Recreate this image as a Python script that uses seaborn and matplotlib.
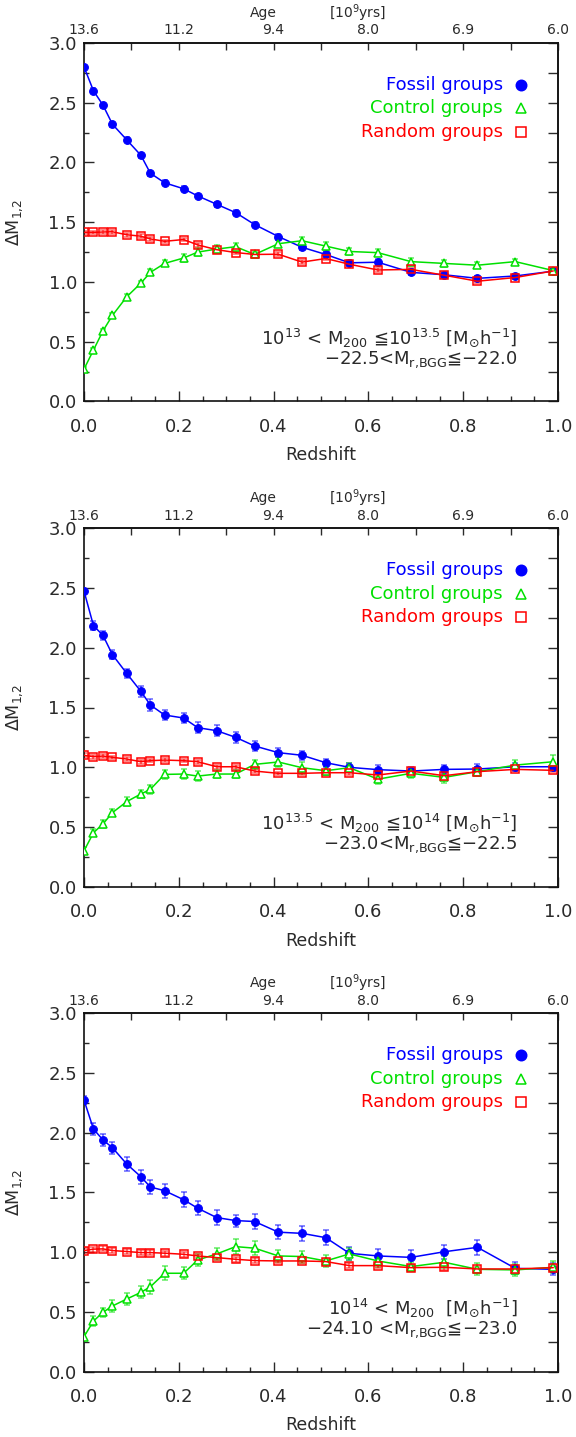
import numpy as np
import matplotlib
matplotlib.use("Agg")
import matplotlib.pyplot as plt
import seaborn as sns

sns.set_style("ticks")
plt.rcParams["font.family"] = ["DejaVu Sans"]
plt.rcParams["mathtext.default"] = "regular"
plt.rcParams["axes.linewidth"] = 1.2

# Snapshot redshifts
redshift = [0.00, 0.02, 0.04, 0.06, 0.09, 0.12, 0.14, 0.17, 0.21, 0.24, 0.28, 0.32,
            0.36, 0.41, 0.46, 0.51, 0.56, 0.62, 0.69, 0.76, 0.83, 0.91, 0.99]

# Top-axis ages (10^9 yr) at z = 0, 0.2, ..., 1.0
age_ticks = [0.0, 0.2, 0.4, 0.6, 0.8, 1.0]
age_labels = ["13.6", "11.2", "9.4", "8.0", "6.9", "6.0"]

# Panel 1: 10^13 < M200 <= 10^13.5
fossil_1 = [2.80, 2.60, 2.48, 2.32, 2.19, 2.06, 1.91, 1.83, 1.78, 1.72, 1.65, 1.58,
            1.48, 1.38, 1.29, 1.23, 1.16, 1.165, 1.08, 1.06, 1.03, 1.05, 1.09]
fossil_err_1 = [0.02, 0.02, 0.02, 0.02, 0.02, 0.02, 0.02, 0.02, 0.02, 0.02, 0.02, 0.02,
                0.02, 0.02, 0.02, 0.02, 0.02, 0.025, 0.025, 0.02, 0.02, 0.02, 0.02]
control_1 = [0.27, 0.43, 0.59, 0.72, 0.875, 0.99, 1.08, 1.155, 1.20, 1.25, 1.275, 1.295,
             1.23, 1.32, 1.345, 1.30, 1.255, 1.245, 1.17, 1.155, 1.14, 1.17, 1.095]
control_err_1 = [0.02, 0.02, 0.02, 0.02, 0.02, 0.02, 0.025, 0.025, 0.03, 0.03, 0.035, 0.035,
                 0.03, 0.03, 0.035, 0.035, 0.03, 0.03, 0.03, 0.03, 0.025, 0.025, 0.025]
random_1 = [1.415, 1.415, 1.418, 1.42, 1.395, 1.383, 1.36, 1.34, 1.355, 1.31, 1.27, 1.246,
            1.23, 1.232, 1.166, 1.196, 1.148, 1.10, 1.105, 1.056, 1.006, 1.037, 1.092]
random_err_1 = [0.015, 0.015, 0.015, 0.015, 0.015, 0.015, 0.015, 0.015, 0.015, 0.015, 0.015, 0.015,
                0.015, 0.015, 0.015, 0.015, 0.015, 0.015, 0.015, 0.015, 0.015, 0.015, 0.015]

# Panel 2: 10^13.5 < M200 <= 10^14
fossil_2 = [2.475, 2.185, 2.104, 1.942, 1.786, 1.635, 1.521, 1.437, 1.412, 1.331, 1.306, 1.25,
            1.178, 1.122, 1.10, 1.038, 0.999, 0.98, 0.968, 0.982, 0.985, 1.004, 1.004]
fossil_err_2 = [0.02, 0.035, 0.04, 0.04, 0.04, 0.045, 0.05, 0.045, 0.045, 0.045, 0.045, 0.045,
                0.045, 0.04, 0.04, 0.035, 0.035, 0.04, 0.035, 0.04, 0.04, 0.035, 0.035]
control_2 = [0.30, 0.452, 0.525, 0.62, 0.712, 0.776, 0.815, 0.94, 0.943, 0.926, 0.943, 0.943,
             1.024, 1.044, 0.996, 0.971, 0.996, 0.90, 0.949, 0.915, 0.963, 1.018, 1.046]
control_err_2 = [0.03, 0.03, 0.03, 0.03, 0.035, 0.035, 0.035, 0.04, 0.04, 0.04, 0.035, 0.035,
                 0.04, 0.04, 0.05, 0.04, 0.04, 0.04, 0.04, 0.05, 0.04, 0.04, 0.06]
random_2 = [1.10, 1.088, 1.094, 1.083, 1.069, 1.046, 1.055, 1.06, 1.055, 1.046, 1.004, 1.004,
            0.968, 0.949, 0.949, 0.954, 0.954, 0.935, 0.968, 0.929, 0.963, 0.982, 0.974]
random_err_2 = [0.015, 0.015, 0.015, 0.015, 0.015, 0.015, 0.015, 0.015, 0.015, 0.015, 0.015, 0.015,
                0.015, 0.015, 0.015, 0.015, 0.015, 0.015, 0.015, 0.015, 0.015, 0.015, 0.015]

# Panel 3: M200 > 10^14
fossil_3 = [2.274, 2.031, 1.94, 1.875, 1.739, 1.632, 1.546, 1.515, 1.44, 1.368, 1.29, 1.265,
            1.257, 1.168, 1.158, 1.122, 0.991, 0.969, 0.957, 1.004, 1.041, 0.865, 0.857]
fossil_err_3 = [0.03, 0.05, 0.05, 0.05, 0.06, 0.06, 0.06, 0.06, 0.06, 0.06, 0.06, 0.05,
                0.06, 0.06, 0.06, 0.06, 0.055, 0.055, 0.06, 0.06, 0.06, 0.05, 0.05]
control_3 = [0.293, 0.424, 0.497, 0.55, 0.608, 0.664, 0.711, 0.824, 0.824, 0.935, 0.986, 1.047,
             1.034, 0.969, 0.964, 0.927, 0.986, 0.927, 0.88, 0.916, 0.857, 0.852, 0.874]
control_err_3 = [0.03, 0.04, 0.04, 0.05, 0.05, 0.05, 0.06, 0.06, 0.05, 0.05, 0.05, 0.06,
                 0.06, 0.05, 0.05, 0.05, 0.05, 0.05, 0.04, 0.05, 0.05, 0.05, 0.05]
random_3 = [1.014, 1.026, 1.028, 1.014, 1.006, 0.997, 0.997, 0.992, 0.983, 0.969, 0.955, 0.941,
            0.93, 0.927, 0.927, 0.922, 0.888, 0.888, 0.871, 0.874, 0.86, 0.86, 0.871]
random_err_3 = [0.02, 0.02, 0.02, 0.02, 0.02, 0.02, 0.02, 0.02, 0.02, 0.02, 0.02, 0.02,
                0.02, 0.02, 0.02, 0.02, 0.02, 0.02, 0.02, 0.02, 0.02, 0.02, 0.02]

mass_labels = [
    r"10$^{13}$ < M$_{200}$ ≦10$^{13.5}$ [M$_{\odot}$h$^{-1}$]",
    r"10$^{13.5}$ < M$_{200}$ ≦10$^{14}$ [M$_{\odot}$h$^{-1}$]",
    r"10$^{14}$ < M$_{200}$  [M$_{\odot}$h$^{-1}$]",
]
mag_labels = [
    r"−22.5<M$_{r{,}BGG}$≦−22.0",
    r"−23.0<M$_{r{,}BGG}$≦−22.5",
    r"−24.10 <M$_{r{,}BGG}$≦−23.0",
]

BLUE = "#0000ff"
GREEN = "#00e000"
RED = "#ff0000"
INK = "#2a2a2a"

panels = [
    (fossil_1, fossil_err_1, control_1, control_err_1, random_1, random_err_1),
    (fossil_2, fossil_err_2, control_2, control_err_2, random_2, random_err_2),
    (fossil_3, fossil_err_3, control_3, control_err_3, random_3, random_err_3),
]

W, H = 576, 1437
fig = plt.figure(figsize=(W / 100, H / 100), dpi=100)

left_px, right_px = 84, 558
tops_px = [43, 528.3, 1013.3]
height_px = 358.4

for i, (fg, fge, cg, cge, rg, rge) in enumerate(panels):
    top = tops_px[i]
    ax = fig.add_axes([left_px / W, 1 - (top + height_px) / H,
                       (right_px - left_px) / W, height_px / H])

    series = [
        (fg, fge, BLUE, dict(marker="o", markersize=5.6, markerfacecolor=BLUE, markeredgecolor=BLUE)),
        (cg, cge, GREEN, dict(marker="^", markersize=5.6, markerfacecolor="white", markeredgecolor=GREEN,
                              markeredgewidth=1.1)),
        (rg, rge, RED, dict(marker="s", markersize=5.2, markerfacecolor="none", markeredgecolor=RED,
                            markeredgewidth=1.1)),
    ]
    for vals, errs, col, mk in series:
        ax.errorbar(redshift, vals, yerr=errs, fmt="none", ecolor=col, alpha=0.6,
                    elinewidth=1.1, capsize=2.3, capthick=1.1, zorder=2)
        sns.lineplot(x=redshift, y=vals, ax=ax, color=col, linewidth=1.1,
                     estimator=None, sort=False, zorder=3, **mk)

    ax.set_xlim(0, 1)
    ax.set_ylim(0, 3)
    ax.set_xticks(np.arange(0, 1.01, 0.2))
    ax.set_xticks(np.arange(0, 1.001, 0.05), minor=True)
    ax.set_xticklabels([f"{v:.1f}" for v in np.arange(0, 1.01, 0.2)])
    ax.set_yticks(np.arange(0, 3.01, 0.5))
    ax.set_yticks(np.arange(0, 3.001, 0.25), minor=True)
    ax.set_yticklabels([f"{v:.1f}" for v in np.arange(0, 3.01, 0.5)])
    ax.tick_params(which="major", direction="in", length=7, width=1.0, labelsize=13,
                   color=INK, labelcolor=INK)
    ax.tick_params(which="minor", direction="in", length=3.6, width=1.0, color=INK)
    ax.tick_params(axis="x", which="major", pad=12)
    ax.tick_params(axis="y", which="major", pad=5)
    ax.tick_params(top=False, right=False, which="both")
    for sp in ax.spines.values():
        sp.set_color("#111111")
        sp.set_linewidth(1.2)

    ax.set_xlabel("Redshift", fontsize=12.5, color=INK)
    ax.xaxis.set_label_coords(0.5, -0.125)
    ax.set_ylabel(r"$\Delta$M$_{1{,}2}$", fontsize=12.5, color=INK)
    ax.yaxis.set_label_coords(-0.124, 0.5)

    # right axis: ticks only
    ry = ax.secondary_yaxis("right")
    ry.set_yticks(np.arange(0, 3.001, 0.25))
    ry.tick_params(direction="in", length=7, width=1.0, labelright=False, color=INK)
    ry.set_yticklabels([])
    ry.spines["right"].set_linewidth(1.2)

    # top axis: cosmic age
    tx = ax.secondary_xaxis("top")
    tx.set_xticks(age_ticks)
    tx.set_xticklabels(age_labels)
    tx.set_xticks(np.arange(0, 1.001, 0.1), minor=True)
    tx.tick_params(which="major", direction="in", length=5, width=1.0, labelsize=10,
                   pad=4, color=INK, labelcolor=INK)
    tx.tick_params(which="minor", direction="in", length=5, width=1.0, color=INK)
    tx.spines["top"].set_linewidth(1.2)
    ax.text(0.378, 1.084, "Age", transform=ax.transAxes, ha="center", va="center",
            fontsize=10, color=INK)
    ax.text(0.577, 1.084, r"[10$^{9}$yrs]", transform=ax.transAxes, ha="center", va="center",
            fontsize=10, color=INK)

    # key
    key = [("Fossil groups", BLUE, "o", BLUE), ("Control groups", GREEN, "^", "none"),
           ("Random groups", RED, "s", "none")]
    for j, (txt, col, mk, fc) in enumerate(key):
        yk = 0.883 - j * 0.0652
        ax.text(0.884, yk, txt, transform=ax.transAxes, ha="right", va="center",
                fontsize=13, color=col)
        ax.plot([0.921], [yk], transform=ax.transAxes, marker=mk, markersize=7.5,
                markerfacecolor=fc, markeredgecolor=col, markeredgewidth=1.1,
                linestyle="none", clip_on=False)

    ax.text(0.915, 0.178, mass_labels[i], transform=ax.transAxes, ha="right", va="center",
            fontsize=13, color=INK)
    ax.text(0.915, 0.116, mag_labels[i], transform=ax.transAxes, ha="right", va="center",
            fontsize=13, color=INK)

fig.savefig("out.png", dpi=100)
